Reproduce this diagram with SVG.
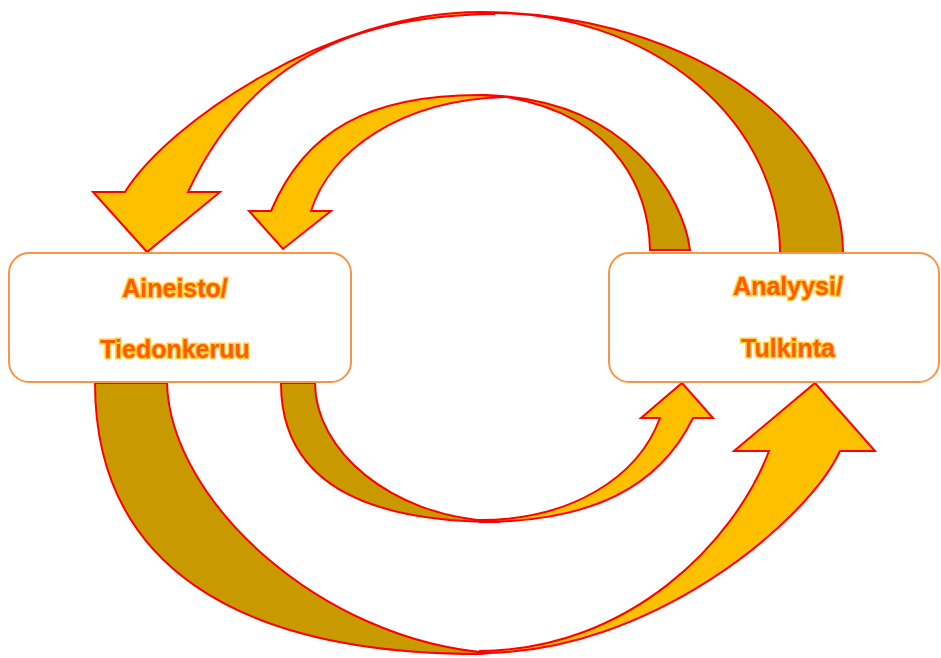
<svg xmlns="http://www.w3.org/2000/svg" width="941" height="658" viewBox="0 0 941 658">
<style>
.front{fill:#FFC000;stroke:#FF0000;stroke-width:2;stroke-linejoin:miter}
.back{fill:#C99A00;stroke:#FF0000;stroke-width:2;stroke-linejoin:miter}
.box{fill:#FFFFFF;stroke:#F79646;stroke-width:2}
.lbl{font-family:"Liberation Sans",Arial,sans-serif;font-weight:bold;font-size:25px;fill:#FF5B00;stroke:#FFC000;stroke-width:3;stroke-opacity:0.75;paint-order:stroke;text-anchor:middle}
</style>
<rect width="941" height="658" fill="#FFFFFF"/>
<g id="connectors">
  <g id="arrow-top-outer">
    <path class="back" d="M843,253 L780,253 A287,240 0 0 0 493,13 L480,12 A363,241 0 0 1 843,253 Z"/>
    <path class="front" d="M495,14 L480,12 C330,12 169,122 125,192 L93,192 L147,252 L220,192 L188,192 C240,80 330,15 495,14 Z"/>
  </g>
  <g id="arrow-top-inner">
    <path class="back" d="M690,250 L650,250 C649,200 625,115 500,96 L480,95 C630,97 684,200 690,250 Z"/>
    <path class="front" d="M505,97 L480,95 C370,95 305,130 271,211 L249,211 L283,249 L331,211 L311,211 C330,151 400,100 505,97 Z"/>
  </g>
  <g id="arrow-bottom-outer">
    <path class="back" d="M95,383 L167,383 C170,500 320,640 490,653 L480,654 C230,654 95,560 95,383 Z"/>
    <path class="front" d="M480,653 C650,654 808,521 840,451 L875,451 L815,383 L734,451 L769,451 C735,541 630,650 480,651 Z"/>
  </g>
  <g id="arrow-bottom-inner">
    <path class="back" d="M281,383 L315,383 C315,450 390,515 490,521 L500,522 C360,522 281,480 281,383 Z"/>
    <path class="front" d="M480,522 C590,522 659,488 693,418 L713,418 L682,383 L641,418 L660,418 C638,478 570,520 480,520 Z"/>
  </g>
</g>
<g id="node-aineisto">
  <rect class="box" x="9" y="253" width="342" height="129" rx="20" ry="20"/>
  <text class="lbl" x="175" y="297">Aineisto/</text>
  <text class="lbl" x="175" y="358">Tiedonkeruu</text>
</g>
<g id="node-analyysi">
  <rect class="box" x="609" y="253" width="330" height="129" rx="20" ry="20"/>
  <text class="lbl" x="788" y="295">Analyysi/</text>
  <text class="lbl" x="788" y="357">Tulkinta</text>
</g>
</svg>
